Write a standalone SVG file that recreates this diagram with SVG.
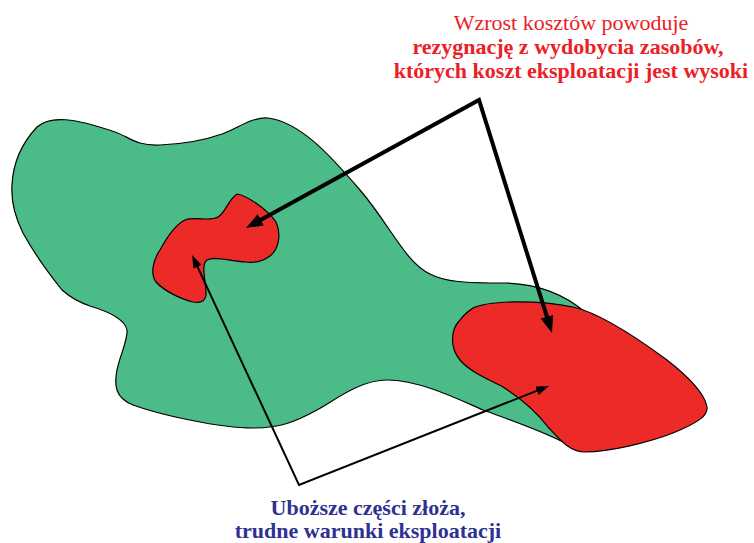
<svg xmlns="http://www.w3.org/2000/svg" width="754" height="543" viewBox="0 0 754 543">
<style>
.shape{stroke:#000;stroke-width:1.2;stroke-linejoin:round}
.green{fill:#4BBC87}
.red{fill:#EC2A27}
.t{font-family:"Liberation Serif","Times New Roman",serif;font-size:22px;text-anchor:middle}
.red-t{fill:#EC2027}
.blue-t{fill:#2E3192;font-weight:bold}
.b{font-weight:bold}
.thick{fill:none;stroke:#000;stroke-width:4;stroke-linejoin:miter}
.thin{fill:none;stroke:#000;stroke-width:2;stroke-linejoin:miter}
</style>
<defs>
<marker id="headBig" viewBox="0 0 17 13" refX="1" refY="6.5" markerWidth="17" markerHeight="13" markerUnits="userSpaceOnUse" orient="auto-start-reverse">
<path d="M0,0 L17,6.5 L0,13 Z" fill="#000"/>
</marker>
<marker id="headSmall" viewBox="0 0 13 9" refX="1" refY="4.5" markerWidth="13" markerHeight="9" markerUnits="userSpaceOnUse" orient="auto-start-reverse">
<path d="M0,0 L13,4.5 L0,9 Z" fill="#000"/>
</marker>
</defs>
<g id="deposit">
<path class="shape green" d="M37,127 C50,115 75,118 115,132 C130,137 135,146 160,145 C185,144 205,140 222,134 C240,127 252,117 268,118 C300,122 330,155 360,190 C390,225 405,262 430,274 C445,282 465,283 505,283 C540,284 565,295 585,312 L640,380 L563,442 C540,430 505,418 483,410 C460,400 420,380 387,380 C360,380 335,400 317,410 C295,422 280,428 253,428 C220,428 160,415 133,405 C115,398 114,385 117,370 C120,355 128,340 127,330 C125,320 110,312 90,306 C78,302 70,297 62,290 C50,275 35,255 23,233 C14,215 11,200 12,185 C13,165 20,145 37,127 Z"/>
</g>
<g id="small-red">
<path class="shape red" d="M237,194 C248,196 268,210 276,222 C282,235 278,250 270,256 C262,262 255,263 245,262 C230,261 215,256 207,260 C200,265 207,285 206,295 C205,302 200,303 193,302 C180,299 163,290 156,282 C150,274 153,260 160,250 C167,237 175,225 185,220 C195,216 210,222 218,217 C226,212 228,200 237,194 Z"/>
</g>
<g id="big-red">
<path class="shape red" d="M473,308 C490,300 540,300 573,307 C600,313 640,340 667,360 C690,378 705,395 707,407 C708,415 700,422 673,433 C650,442 610,452 585,452 C570,452 560,440 548,427 C535,410 520,398 503,387 C490,380 470,372 460,360 C450,348 450,330 460,320 C465,313 470,310 473,308 Z"/>
</g>
<g id="connectors">
<path class="thick" d="M260,220.3 L479,100 L547.2,317.7" marker-start="url(#headBig)" marker-end="url(#headBig)"/>
<path class="thin" d="M197.1,265.9 L299,485 L537.9,390.4" marker-start="url(#headSmall)" marker-end="url(#headSmall)"/>
</g>
<g id="label-top">
<text class="t red-t" x="571" y="30">Wzrost kosztów powoduje</text>
<text class="t red-t b" x="568" y="54">rezygnację z wydobycia zasobów,</text>
<text class="t red-t b" x="571" y="78">których koszt eksploatacji jest wysoki</text>
</g>
<g id="label-bottom">
<text class="t blue-t" x="368" y="515">Uboższe części złoża,</text>
<text class="t blue-t" x="368" y="538">trudne warunki eksploatacji</text>
</g>
</svg>
